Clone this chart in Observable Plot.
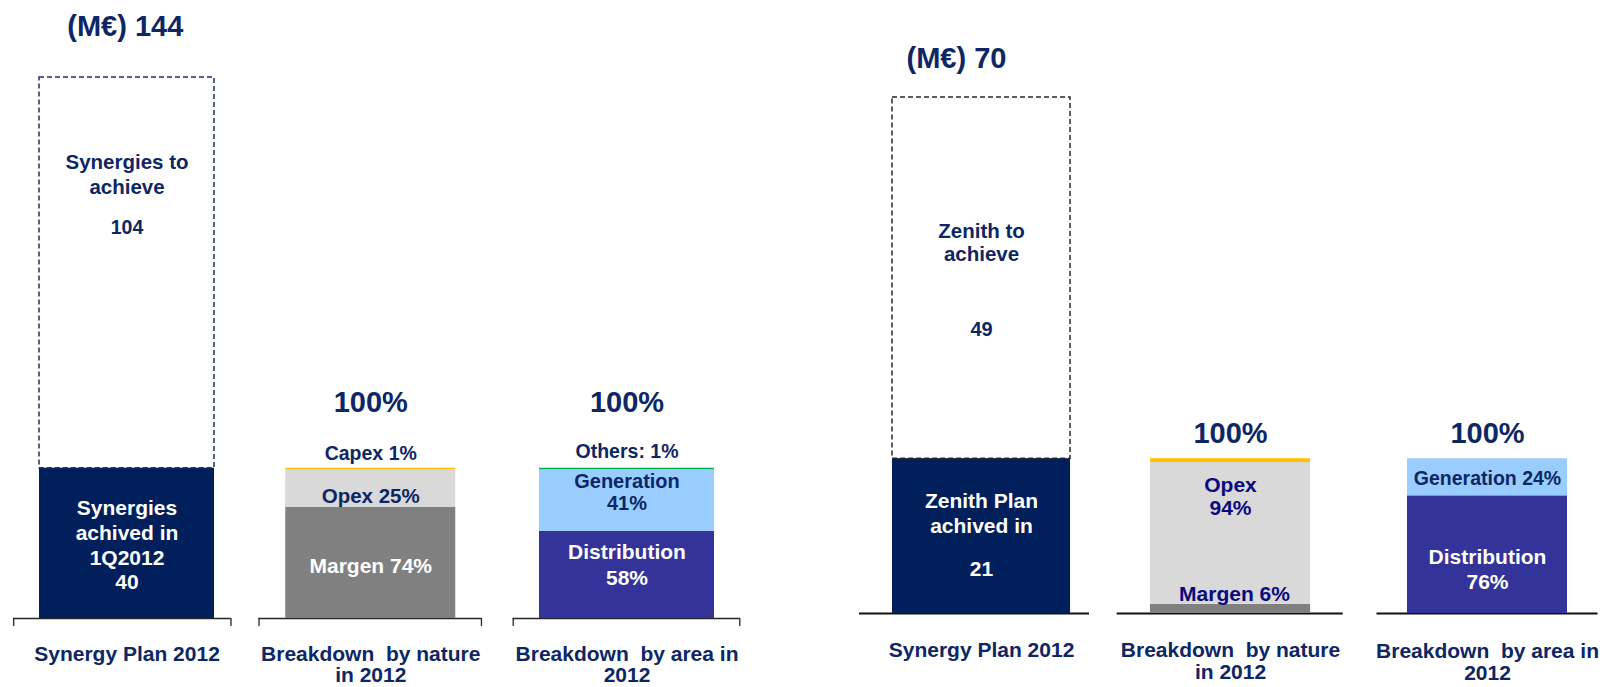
<!DOCTYPE html>
<html><head><meta charset="utf-8">
<script src="https://cdn.jsdelivr.net/npm/d3@7"></script>
<script src="https://cdn.jsdelivr.net/npm/@observablehq/plot@0.6"></script>
<style>
body{margin:0;background:#fff;}
#row{display:flex;width:1600px;height:687px;overflow:hidden;}
svg{font-family:"Liberation Sans",Arial,sans-serif;}
</style></head><body><div id="row"></div>
<script>
// ---------------- DATA ----------------
const categories = ["Synergy Plan 2012", "Breakdown  by nature\nin 2012", "Breakdown  by area in\n2012"];
const natureSegments = ["Margen", "Opex", "Capex"];
const areaSegments = ["Distribution", "Generation", "Others"];
const breakdownTotalLabel = "100%";

// Left panel (Synergies)
const leftTitle = "(M€) 144";
const leftAchieved = 40;
const leftToAchieve = 104;
const leftPlanLabels = ["Synergies\nachived in\n1Q2012", "Synergies to\nachieve"];
const leftNaturePct = [74, 25, 1];
const leftNatureLabels = ["Margen 74%", "Opex 25%", "Capex 1%"];
const leftAreaPct = [58, 41, 1];
const leftAreaLabels = ["Distribution\n58%", "Generation\n41%", "Others: 1%"];

// Right panel (Zenith)
const rightTitle = "(M€) 70";
const rightAchieved = 21;
const rightToAchieve = 49;
const rightPlanLabels = ["Zenith Plan\nachived in", "Zenith to\nachieve"];
const rightNaturePct = [6, 94, 2.5];   // Capex sliver unlabeled (estimated)
const rightNatureLabels = ["Margen 6%", "Opex\n94%", ""];
const rightAreaPct = [76, 24, 0];
const rightAreaLabels = ["Distribution\n76%", "Generation 24%", ""];

// ---------------- STYLE ----------------
const NAVY_BAR = "#001f5b";
const TEXT = "#0d2664";
const segFill = {Margen:"#808080", Opex:"#d9d9d9", Capex:"#ffc000",
  Distribution:"#333399", Generation:"#99ccff", Others:"#00b050"};

function buildRows(achieved, toAchieve, naturePct, areaPct, planLabels, natureLabels, areaLabels) {
  const rows = [];
  rows.push({cat: categories[0], key: "achieved", y1: 0, y2: achieved, label: planLabels[0], value: achieved});
  rows.push({cat: categories[0], key: "toAchieve", y1: achieved, y2: achieved + toAchieve, label: planLabels[1], value: toAchieve});
  const stack = (cat, keys, pct, labels) => {
    const sum = d3.sum(pct);
    let acc = 0;
    keys.forEach((k, i) => {
      const v = pct[i] / sum * achieved;
      rows.push({cat, key: k, y1: acc, y2: acc + v, label: labels[i]});
      acc += v;
    });
  };
  stack(categories[1], natureSegments, naturePct, natureLabels);
  stack(categories[2], areaSegments, areaPct, areaLabels);
  return rows;
}

function panel(cfg) {
  const rows = buildRows(cfg.achieved, cfg.toAchieve, cfg.naturePct, cfg.areaPct, cfg.planLabels, cfg.natureLabels, cfg.areaLabels);
  const W = 800, H = 687, n = categories.length;
  const step = (W - cfg.ml - cfg.mr) / (n - cfg.pi + 2 * cfg.po);
  const bw = step * (1 - cfg.pi);
  const marks = [];
  const catIdx = c => categories.indexOf(c);

  // baselines (+ optional end ticks)
  categories.forEach((c, i) => {
    const cdx = cfg.catDx[i];
    marks.push(Plot.tickY([c], {x: d => d, y: 0, stroke: cfg.baseColor, strokeWidth: cfg.baseWidth,
      insetLeft: -cfg.extL[i], insetRight: -cfg.extR[i], dx: cdx}));
    if (cfg.endTicks) {
      const tickShape = {draw(ctx, l) { ctx.moveTo(0, 0); ctx.lineTo(0, -l); }};
      marks.push(Plot.vector([c], {x: d => d, y: 0, length: 7, rotate: 180, anchor: "start",
        shape: tickShape, stroke: cfg.baseColor, strokeWidth: 1.3, dx: cdx - bw / 2 - cfg.extL[i]}));
      marks.push(Plot.vector([c], {x: d => d, y: 0, length: 7, rotate: 180, anchor: "start",
        shape: tickShape, stroke: cfg.baseColor, strokeWidth: 1.3, dx: cdx + bw / 2 + cfg.extR[i]}));
    }
  });

  // plan bar
  const plan = rows.filter(r => r.cat === categories[0]);
  marks.push(Plot.barY(plan.filter(r => r.key === "achieved"), {x: "cat", y1: "y1", y2: "y2", fill: NAVY_BAR, dx: cfg.catDx[0]}));
  marks.push(Plot.barY(plan.filter(r => r.key === "toAchieve"), {x: "cat", y1: "y1", y2: "y2", fill: "none",
    stroke: cfg.dashColor, strokeWidth: 1.5, strokeDasharray: "5,3", dx: cfg.catDx[0]}));
  // breakdown bars
  for (const c of categories.slice(1)) {
    const seg = rows.filter(r => r.cat === c && r.y2 > r.y1);
    marks.push(Plot.barY(seg, {x: "cat", y1: "y1", y2: "y2", fill: d => segFill[d.key],
      insetLeft: cfg.inset[catIdx(c)], insetRight: cfg.inset[catIdx(c)], dx: cfg.catDx[catIdx(c)]}));
  }

  // labels
  const textOpts = (p, cdx) => ({fontWeight: "bold", lineAnchor: p.anchor || "middle", fontSize: p.size || 21,
    fill: p.fill || TEXT, dy: p.dy || 0, dx: (p.dx || 0) + cdx, lineHeight: p.lh || 1.15});
  for (const r of rows) {
    const p = cfg.place[r.key];
    const cdx = cfg.catDx[catIdx(r.cat)];
    if (p && r.label) {
      marks.push(Plot.text([r], {x: "cat", y: d => p.at === "mid" ? (d.y1 + d.y2) / 2 : d.y2,
        text: d => d.label, ...textOpts(p, cdx)}));
    }
    const pv = cfg.place[r.key + "Value"];
    if (pv) {
      marks.push(Plot.text([r], {x: "cat", y: d => pv.at === "mid" ? (d.y1 + d.y2) / 2 : d.y2,
        text: d => String(d.value), ...textOpts(pv, cdx)}));
    }
  }
  // "100%" labels above breakdown bars
  for (const c of categories.slice(1)) {
    const top = d3.max(rows.filter(r => r.cat === c), r => r.y2);
    const p = cfg.place["total" + catIdx(c)];
    marks.push(Plot.text([{cat: c, y: top}], {x: "cat", y: "y", text: () => breakdownTotalLabel,
      ...textOpts(p, cfg.catDx[catIdx(c)])}));
  }
  // title above plan bar
  marks.push(Plot.text([{cat: categories[0], y: cfg.achieved + cfg.toAchieve}], {x: "cat", y: "y",
    text: () => cfg.title, ...textOpts(cfg.place.title, cfg.catDx[0])}));
  // category labels under baselines
  categories.forEach((c, i) => {
    marks.push(Plot.text([c], {x: d => d, y: 0, text: d => d,
      ...textOpts({anchor: "top", dy: cfg.catLabelDy[i], lh: cfg.catLabelLh}, cfg.catDx[i])}));
  });

  return Plot.plot({
    width: W, height: H,
    marginLeft: cfg.ml, marginRight: cfg.mr, marginTop: cfg.mt, marginBottom: cfg.mb,
    x: {domain: categories, paddingInner: cfg.pi, paddingOuter: cfg.po, axis: null},
    y: {domain: [0, cfg.achieved + cfg.toAchieve], axis: null},
    style: {fontFamily: "'Liberation Sans', Arial, sans-serif", background: "white", overflow: "visible"},
    marks
  });
}

const left = panel({
  title: leftTitle, achieved: leftAchieved, toAchieve: leftToAchieve,
  naturePct: leftNaturePct, areaPct: leftAreaPct,
  planLabels: leftPlanLabels, natureLabels: leftNatureLabels, areaLabels: leftAreaLabels,
  ml: 13.5, mr: 61, mt: 77, mb: 69, pi: 0.3007, po: 0.1,
  catDx: [0, -6.25, 0], inset: [0, 2.5, 0],
  extL: [25.8, 24.2, 26.3], extR: [16.5, 23.2, 25.3],
  baseColor: "#262626", baseWidth: 1.5, endTicks: true, dashColor: "#1f3060",
  catLabelDy: [27.5, 28, 28], catLabelLh: 1.0,
  place: {
    achieved: {at: "mid", dy: -11, fill: "white", lh: 1.19},
    achievedValue: {at: "mid", dy: 37.7, fill: "white"},
    toAchieve: {at: "top", dy: 96, size: 20.5, lh: 1.19},
    toAchieveValue: {at: "top", dy: 149, size: 19.5},
    Margen: {at: "mid", dy: 2, fill: "white"},
    Opex: {at: "mid", dy: 7, size: 20.5},
    Capex: {at: "top", dy: -15.7, size: 19.5},
    Distribution: {at: "mid", dy: -11, fill: "white", lh: 1.2},
    Generation: {at: "mid", dy: -9, size: 20, lh: 1.1},
    Others: {at: "top", dy: -17, size: 19.5},
    total1: {dy: -66.7, size: 29}, total2: {dy: -66.7, size: 29},
    title: {dy: -52, dx: -1.7, size: 29}
  }
});

const right = panel({
  title: rightTitle, achieved: rightAchieved, toAchieve: rightToAchieve,
  naturePct: rightNaturePct, areaPct: rightAreaPct,
  planLabels: rightPlanLabels, natureLabels: rightNatureLabels, areaLabels: rightAreaLabels,
  ml: 79.3, mr: 10.8, mt: 97, mb: 74, pi: 0.2971, po: 0.05,
  catDx: [0, -4, 0], inset: [0, 9, 9],
  extL: [33, 24.3, 21.5], extR: [19, 23.7, 21.5],
  baseColor: "#111", baseWidth: 2, endTicks: false, dashColor: "#262626",
  catLabelDy: [27.5, 28, 29], catLabelLh: 1.05,
  place: {
    achieved: {at: "mid", dy: -23.3, fill: "white", lh: 1.17},
    achievedValue: {at: "mid", dy: 31.7, fill: "white"},
    toAchieve: {at: "top", dy: 144.5, size: 20.5, lh: 1.12},
    toAchieveValue: {at: "top", dy: 231, size: 20},
    Margen: {at: "top", dy: -11, fill: "#0a0a80", dx: 4},
    Opex: {at: "top", dy: 33.3, fill: "#0a0a80", lh: 1.11},
    Distribution: {at: "mid", dy: 14, fill: "white", lh: 1.17},
    Generation: {at: "mid", dy: 1, size: 19.5},
    total1: {dy: -26.6, size: 29}, total2: {dy: -26.6, size: 29},
    title: {dy: -40, dx: -25, size: 29}
  }
});

document.getElementById("row").append(left, right);
</script>
</body></html>
